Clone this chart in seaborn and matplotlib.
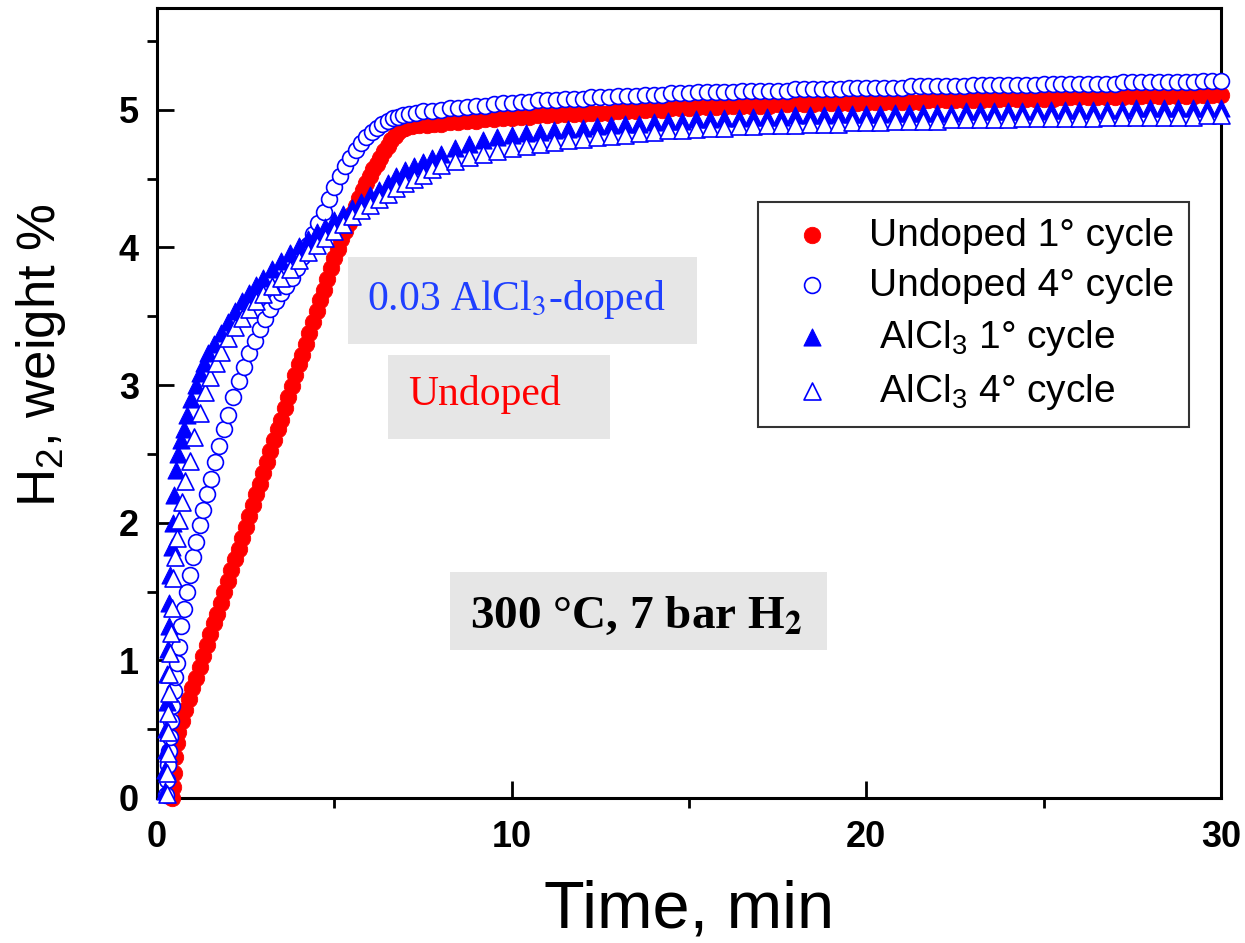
import numpy as np
import seaborn as sns
import matplotlib.pyplot as plt
from matplotlib.patches import Rectangle
from matplotlib.ticker import MultipleLocator

# --- data (time in min, H2 uptake in weight %) ---

# Undoped, 1st cycle - rising part
undoped1_t = [0.42, 0.45, 0.48, 0.52, 0.56, 0.60,
              0.70, 0.80, 0.90, 1.00, 1.10, 1.20, 1.30, 1.40, 1.50, 1.60,
              1.70, 1.80, 1.90, 2.00, 2.10, 2.20, 2.30, 2.40, 2.50, 2.60,
              2.70, 2.80, 2.90, 3.00, 3.10, 3.20, 3.30, 3.40, 3.50, 3.60,
              3.70, 3.80, 3.90, 4.00, 4.10, 4.20, 4.30, 4.40, 4.50, 4.60,
              4.70, 4.80, 4.90, 5.00, 5.10, 5.20, 5.30, 5.40, 5.50, 5.60,
              5.70, 5.80, 5.90, 6.00, 6.10, 6.20, 6.30, 6.40, 6.50, 6.60,
              6.70, 6.80, 6.90, 7.00, 7.20, 7.40, 7.60, 7.80, 8.00]
undoped1_w = [0.00, 0.08, 0.18, 0.30, 0.40, 0.48,
              0.56, 0.64, 0.72, 0.80, 0.87, 0.95, 1.03, 1.11, 1.19, 1.27,
              1.34, 1.42, 1.50, 1.58, 1.66, 1.74, 1.81, 1.89, 1.97, 2.05,
              2.13, 2.21, 2.28, 2.36, 2.44, 2.52, 2.60, 2.68, 2.75, 2.83,
              2.91, 2.99, 3.07, 3.15, 3.22, 3.30, 3.38, 3.46, 3.54, 3.62,
              3.69, 3.77, 3.85, 3.92, 3.99, 4.06, 4.12, 4.18, 4.24, 4.30,
              4.36, 4.42, 4.47, 4.52, 4.57, 4.61, 4.65, 4.70, 4.74, 4.78,
              4.81, 4.84, 4.86, 4.87, 4.88, 4.89, 4.89, 4.90, 4.90]

# Undoped, 4th cycle - rising part
undoped4_t = [0.25, 0.28, 0.31, 0.34, 0.37, 0.40, 0.43, 0.47, 0.51, 0.56,
              0.62, 0.69, 0.76, 0.84, 0.92, 1.01, 1.10, 1.20, 1.30, 1.41,
              1.52, 1.64, 1.76, 1.88, 2.00, 2.15, 2.30, 2.45, 2.60, 2.75,
              2.90, 3.05, 3.20, 3.35, 3.50, 3.65, 3.80, 3.95, 4.10, 4.25,
              4.40, 4.55, 4.70, 4.85, 5.00, 5.15, 5.30, 5.45, 5.60, 5.75,
              5.90, 6.05, 6.20, 6.35, 6.50, 6.65, 6.80, 6.95, 7.10, 7.30,
              7.50, 7.75, 8.00]
undoped4_w = [0.02, 0.13, 0.24, 0.34, 0.44, 0.56, 0.67, 0.78, 0.88, 0.98,
              1.10, 1.25, 1.37, 1.50, 1.62, 1.75, 1.86, 1.98, 2.09, 2.21,
              2.32, 2.44, 2.56, 2.68, 2.78, 2.91, 3.03, 3.13, 3.23, 3.32,
              3.41, 3.48, 3.55, 3.61, 3.67, 3.72, 3.78, 3.85, 3.93, 4.02,
              4.10, 4.18, 4.26, 4.35, 4.44, 4.52, 4.59, 4.65, 4.71, 4.76,
              4.80, 4.84, 4.87, 4.90, 4.92, 4.94, 4.95, 4.96, 4.97, 4.98,
              4.99, 4.99, 5.00]

# plateau sampling for the undoped runs
plateau_t = [8.25, 8.50, 8.75, 9.00, 9.25, 9.50, 9.75, 10.00,
             10.25, 10.50, 10.75, 11.00, 11.25, 11.50, 11.75, 12.00,
             12.25, 12.50, 12.75, 13.00, 13.25, 13.50, 13.75, 14.00,
             14.25, 14.50, 14.75, 15.00, 15.25, 15.50, 15.75, 16.00,
             16.25, 16.50, 16.75, 17.00, 17.25, 17.50, 17.75, 18.00,
             18.25, 18.50, 18.75, 19.00, 19.25, 19.50, 19.75, 20.00,
             20.25, 20.50, 20.75, 21.00, 21.25, 21.50, 21.75, 22.00,
             22.25, 22.50, 22.75, 23.00, 23.25, 23.50, 23.75, 24.00,
             24.25, 24.50, 24.75, 25.00, 25.25, 25.50, 25.75, 26.00,
             26.25, 26.50, 26.75, 27.00, 27.25, 27.50, 27.75, 28.00,
             28.25, 28.50, 28.75, 29.00, 29.25, 29.50, 29.75, 30.00]
undoped1_plateau = [4.91, 4.91, 4.92, 4.92, 4.93, 4.93, 4.94, 4.94,
                    4.95, 4.95, 4.96, 4.96, 4.96, 4.97, 4.97, 4.97,
                    4.98, 4.98, 4.98, 4.99, 4.99, 4.99, 5.00, 5.00,
                    5.00, 5.01, 5.01, 5.01, 5.02, 5.02, 5.02, 5.02,
                    5.03, 5.03, 5.03, 5.03, 5.03, 5.04, 5.04, 5.04,
                    5.04, 5.04, 5.05, 5.05, 5.05, 5.05, 5.05, 5.05,
                    5.06, 5.06, 5.06, 5.06, 5.06, 5.06, 5.07, 5.07,
                    5.07, 5.07, 5.07, 5.07, 5.07, 5.08, 5.08, 5.08,
                    5.08, 5.08, 5.08, 5.08, 5.08, 5.09, 5.09, 5.09,
                    5.09, 5.09, 5.09, 5.09, 5.09, 5.10, 5.10, 5.10,
                    5.10, 5.10, 5.10, 5.10, 5.10, 5.11, 5.11, 5.11]
undoped4_plateau = [5.01, 5.01, 5.02, 5.03, 5.03, 5.04, 5.05, 5.05,
                    5.06, 5.06, 5.07, 5.07, 5.07, 5.08, 5.08, 5.08,
                    5.09, 5.09, 5.09, 5.10, 5.10, 5.10, 5.11, 5.11,
                    5.11, 5.12, 5.12, 5.12, 5.13, 5.13, 5.13, 5.13,
                    5.13, 5.14, 5.14, 5.14, 5.14, 5.14, 5.14, 5.15,
                    5.15, 5.15, 5.15, 5.15, 5.15, 5.16, 5.16, 5.16,
                    5.16, 5.16, 5.16, 5.16, 5.17, 5.17, 5.17, 5.17,
                    5.17, 5.17, 5.17, 5.18, 5.18, 5.18, 5.18, 5.18,
                    5.18, 5.18, 5.18, 5.19, 5.19, 5.19, 5.19, 5.19,
                    5.19, 5.19, 5.19, 5.19, 5.20, 5.20, 5.20, 5.20,
                    5.20, 5.20, 5.20, 5.20, 5.20, 5.21, 5.21, 5.21]

# AlCl3-doped, 1st cycle - rising part
alcl1_t = [0.22, 0.23, 0.24, 0.25, 0.27, 0.29, 0.31, 0.33, 0.35, 0.38,
           0.41, 0.44, 0.48, 0.53, 0.60, 0.67, 0.75, 0.85, 0.97, 1.09,
           1.21, 1.33, 1.45, 1.60, 1.80, 2.00, 2.20, 2.40, 2.60, 2.80,
           3.00, 3.25, 3.50, 3.75, 4.00, 4.25, 4.50, 4.75, 5.00, 5.25,
           5.50, 5.75, 6.00, 6.25, 6.50, 6.75, 7.00, 7.25, 7.50, 7.75,
           8.00]
alcl1_w = [0.05, 0.20, 0.35, 0.50, 0.70, 0.90, 1.08, 1.25, 1.42, 1.62,
           1.82, 2.00, 2.20, 2.38, 2.50, 2.60, 2.68, 2.78, 2.90, 3.00,
           3.09, 3.16, 3.23, 3.30, 3.38, 3.46, 3.54, 3.61, 3.67, 3.73,
           3.78, 3.84, 3.90, 3.96, 4.01, 4.06, 4.11, 4.15, 4.20, 4.24,
           4.29, 4.33, 4.38, 4.42, 4.47, 4.52, 4.56, 4.59, 4.62, 4.65,
           4.68]

# AlCl3-doped, 4th cycle - rising part
alcl4_t = [0.28, 0.29, 0.30, 0.31, 0.32, 0.33, 0.35, 0.37, 0.39, 0.42,
           0.45, 0.50, 0.56, 0.63, 0.70, 0.80, 0.92, 1.05, 1.20, 1.35,
           1.50, 1.65, 1.80, 2.00, 2.20, 2.40, 2.60, 2.80, 3.00, 3.25,
           3.50, 3.75, 4.00, 4.25, 4.50, 4.75, 5.00, 5.25, 5.50, 5.75,
           6.00, 6.25, 6.50, 6.75, 7.00, 7.25, 7.50, 7.75, 8.00]
alcl4_w = [0.03, 0.18, 0.33, 0.48, 0.62, 0.76, 0.90, 1.05, 1.20, 1.38,
           1.60, 1.75, 1.89, 2.02, 2.15, 2.30, 2.45, 2.62, 2.80, 2.95,
           3.06, 3.16, 3.24, 3.34, 3.42, 3.49, 3.55, 3.61, 3.66, 3.72,
           3.78, 3.84, 3.91, 3.97, 4.02, 4.07, 4.12, 4.17, 4.23, 4.27,
           4.31, 4.35, 4.39, 4.43, 4.47, 4.50, 4.53, 4.57, 4.60]

# plateau sampling for the doped runs
plateau_tri_t = [8.4, 8.8, 9.2, 9.6, 10.0, 10.4, 10.8, 11.2, 11.6, 12.0,
                 12.4, 12.8, 13.2, 13.6, 14.0, 14.4, 14.8, 15.2, 15.6, 16.0,
                 16.4, 16.8, 17.2, 17.6, 18.0, 18.4, 18.8, 19.2, 19.6, 20.0,
                 20.4, 20.8, 21.2, 21.6, 22.0, 22.4, 22.8, 23.2, 23.6, 24.0,
                 24.4, 24.8, 25.2, 25.6, 26.0, 26.4, 26.8, 27.2, 27.6, 28.0,
                 28.4, 28.8, 29.2, 29.6, 30.0]
alcl1_plateau = [4.72, 4.75, 4.78, 4.80, 4.82, 4.83, 4.84, 4.85, 4.86, 4.87,
                 4.88, 4.89, 4.90, 4.90, 4.91, 4.92, 4.92, 4.93, 4.93, 4.94,
                 4.94, 4.95, 4.95, 4.95, 4.96, 4.96, 4.96, 4.97, 4.97, 4.97,
                 4.97, 4.98, 4.98, 4.98, 4.98, 4.98, 4.99, 4.99, 4.99, 4.99,
                 4.99, 4.99, 5.00, 5.00, 5.00, 5.00, 5.00, 5.00, 5.01, 5.01,
                 5.01, 5.01, 5.01, 5.01, 5.01]
alcl4_plateau = [4.63, 4.66, 4.68, 4.70, 4.72, 4.74, 4.75, 4.77, 4.78, 4.79,
                 4.80, 4.81, 4.82, 4.83, 4.84, 4.85, 4.85, 4.86, 4.87, 4.87,
                 4.88, 4.88, 4.89, 4.89, 4.89, 4.90, 4.90, 4.90, 4.91, 4.91,
                 4.91, 4.92, 4.92, 4.92, 4.92, 4.93, 4.93, 4.93, 4.93, 4.93,
                 4.94, 4.94, 4.94, 4.94, 4.94, 4.94, 4.95, 4.95, 4.95, 4.95,
                 4.95, 4.95, 4.95, 4.96, 4.96]

labels = ["Undoped 1° cycle", "Undoped 4° cycle",
          " AlCl$_3$ 1° cycle", " AlCl$_3$ 4° cycle"]

# --- style ---
sns.set_theme(style="ticks")
plt.rcParams["font.family"] = ["Liberation Sans", "DejaVu Sans"]
plt.rcParams["mathtext.fontset"] = "custom"
plt.rcParams["mathtext.rm"] = "Liberation Sans"
plt.rcParams["mathtext.it"] = "Liberation Sans:italic"
plt.rcParams["mathtext.bf"] = "Liberation Sans:bold"
plt.rcParams["text.color"] = "black"
plt.rcParams["axes.labelcolor"] = "black"

fig = plt.figure(figsize=(12.45, 9.43), dpi=100)
ax = fig.add_axes([0.1261, 0.1538, 0.8546, 0.8377])

series = [
    (undoped1_t + plateau_t, undoped1_w + undoped1_plateau,
     dict(marker="o", s=140, color="red", edgecolor="red", linewidth=0.6)),
    (undoped4_t + plateau_t, undoped4_w + undoped4_plateau,
     dict(marker="o", s=130, facecolor="white", edgecolor="blue", linewidth=1.2)),
    (alcl1_t + plateau_tri_t, alcl1_w + alcl1_plateau,
     dict(marker="^", s=150, color="blue", edgecolor="blue", linewidth=0.8)),
    (alcl4_t + plateau_tri_t, alcl4_w + alcl4_plateau,
     dict(marker="^", s=150, facecolor="white", edgecolor="blue", linewidth=1.2)),
]
for (t, w, kw), lab in zip(series, labels):
    sns.scatterplot(x=t, y=w, ax=ax, label=lab, zorder=3, clip_on=False, **kw)

ax.set_xlim(0, 30)
ax.set_ylim(0, 5.74)
ax.xaxis.set_major_locator(MultipleLocator(10))
ax.xaxis.set_minor_locator(MultipleLocator(5))
ax.yaxis.set_major_locator(MultipleLocator(1))
ax.yaxis.set_minor_locator(MultipleLocator(0.5))
ax.tick_params(which="major", direction="in", length=12, width=2,
               labelsize=26, colors="black")
ax.tick_params(which="minor", direction="out", length=7, width=2, colors="black")
ax.tick_params(axis="x", which="major", pad=16)
ax.tick_params(axis="y", which="major", pad=13)
for lab in ax.get_xticklabels() + ax.get_yticklabels():
    lab.set_fontweight("bold")
for sp in ax.spines.values():
    sp.set_linewidth(2.2)
    sp.set_color("black")

ax.set_xlabel("Time, min", fontsize=48, va="baseline", color="black")
ax.xaxis.set_label_coords(0.5, -0.164)
ax.set_ylabel("H$_2$, weight %", fontsize=38, va="baseline", color="black")
ax.yaxis.set_label_coords(-0.096, 0.561)

# annotation boxes
box_kw = dict(transform=ax.transAxes, facecolor="#e6e6e6", edgecolor="none", zorder=1)
ax.add_patch(Rectangle((0.1795, 0.5747), 0.3280, 0.1101, **box_kw))
ax.add_patch(Rectangle((0.2171, 0.4544), 0.2087, 0.1063, **box_kw))
ax.add_patch(Rectangle((0.2754, 0.1873), 0.3543, 0.0987, **box_kw))
ax.text(0.1974, 0.6177, "0.03 AlCl$_3$-doped", transform=ax.transAxes,
        fontsize=30, color="#1f3fff", family="Liberation Serif",
        math_fontfamily="stix", va="baseline", zorder=2)
ax.text(0.2359, 0.4975, "Undoped", transform=ax.transAxes,
        fontsize=30, color="red", family="Liberation Serif", va="baseline", zorder=2)
ax.text(0.2942, 0.2152, r"300 °C, 7 bar H$_\mathbf{2}$", transform=ax.transAxes,
        fontsize=34, color="black", family="Liberation Serif", fontweight="bold",
        math_fontfamily="stix", va="baseline", zorder=2)

leg = ax.legend(loc="upper left", bbox_to_anchor=(0.5648, 0.7544), borderaxespad=0,
                fontsize=28, frameon=True, fancybox=False, edgecolor="#333333",
                framealpha=1, handlelength=2.0, handletextpad=0.45,
                labelspacing=0.36, borderpad=0.4, scatterpoints=1,
                labelcolor="black")
leg.get_frame().set_linewidth(1.5)

fig.savefig("out.png", dpi=100)
